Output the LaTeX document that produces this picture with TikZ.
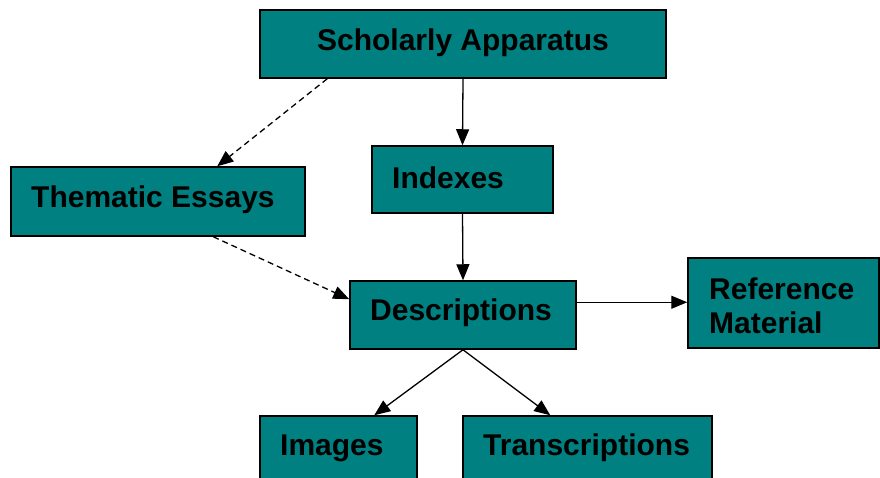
\documentclass[tikz,border=0pt]{standalone}
\usepackage{fontspec}
\setmainfont{Liberation Sans}
\usetikzlibrary{arrows.meta,calc}
\definecolor{teal}{HTML}{008080}
\begin{document}
\begin{tikzpicture}[x=1pt,y=-1pt,
  box/.style={draw=black,line width=1.5pt,fill=teal,rectangle,inner sep=0pt},
  lbl/.style={font=\fontsize{30}{34}\selectfont\bfseries,inner sep=0pt,anchor=west,align=left},
  conn/.style={line width=1.3pt,-{Triangle[length=16pt,width=13pt]}},
  dconn/.style={conn,dash pattern=on 6pt off 4pt}]
\clip (0,0) rectangle (880,477);
\fill[white] (0,0) rectangle (880,477);
% boxes
\node[box,minimum width=406,minimum height=68] (sa) at (463,44) {};
\node[box,minimum width=181,minimum height=67] (ix) at (462.5,179.5) {};
\node[box,minimum width=294,minimum height=69] (te) at (158,201.5) {};
\node[box,minimum width=226,minimum height=68] (de) at (463,315) {};
\node[box,minimum width=191,minimum height=90] (rm) at (783.5,303) {};
\node[box,minimum width=157,minimum height=80] (im) at (338.5,456) {};
\node[box,minimum width=249,minimum height=80] (tr) at (587.5,456) {};
% texts
\node[lbl,anchor=center] (tsa) at (463,43) {Scholarly Apparatus};
\node[lbl] (tix) at (392,178) {Indexes};
\node[lbl] (tte) at (31,200) {Thematic Essays};
\node[lbl] (tde) at (370,313) {Descriptions};
\node[lbl] (trm) at (709,306) {Reference\\Material};
\node[lbl] (tim) at (280,448) {Images};
\node[lbl] (ttr) at (483,448) {Transcriptions};
% connectors
\coordinate (deE) at ($(de.north east)+(0,22)$);
\draw[conn] (sa.south) -- (ix.north);
\draw[conn] (ix.south) -- (de.north);
\draw[dconn] ($(sa.south west)+(68,0)$) -- ($(te.north west)+(207,0)$);
\draw[dconn] ($(te.south west)+(203,0)$) -- ($(de.north west)+(0,19)$);
\draw[conn] (deE) -- (rm.west |- deE);
\draw[conn] (de.south) -- ($(im.north west)+(115,0)$);
\draw[conn] (de.south) -- ($(tr.north west)+(88,0)$);
\end{tikzpicture}
\end{document}
